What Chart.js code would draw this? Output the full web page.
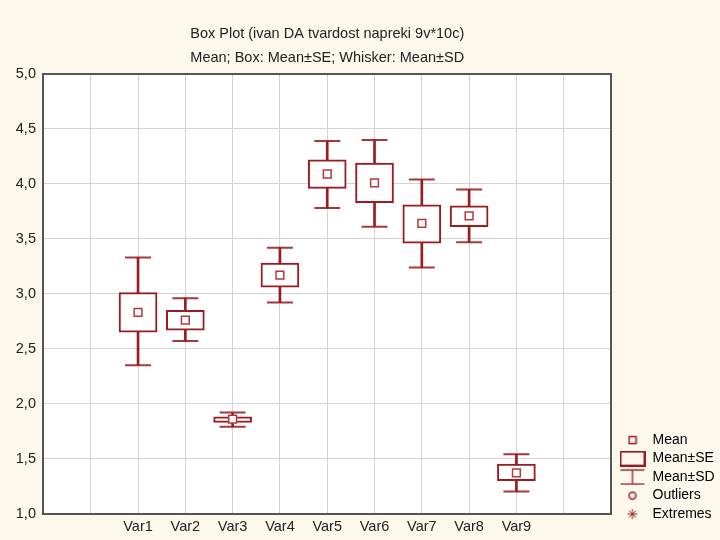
<!DOCTYPE html>
<html>
<head>
<meta charset="utf-8">
<script src="https://cdn.jsdelivr.net/npm/chart.js@4.4.1/dist/chart.umd.min.js"></script>
<style>
  html, body { margin: 0; padding: 0; background: #fcf8ec; }
  #wrap { width: 720px; height: 540px; }
</style>
</head>
<body>
<div id="wrap"><canvas id="box-plot"></canvas></div>
<script>
// values
const categories = ['Var1', 'Var2', 'Var3', 'Var4', 'Var5', 'Var6', 'Var7', 'Var8', 'Var9'];
const means  = [2.83, 2.76, 1.86, 3.17, 4.09, 4.01, 3.64, 3.71, 1.37];
const seLow  = [2.65, 2.67, 1.83, 3.06, 3.96, 3.83, 3.46, 3.61, 1.30];
const seHigh = [3.01, 2.85, 1.88, 3.28, 4.22, 4.19, 3.81, 3.80, 1.45];
const sdLow  = [2.35, 2.57, 1.79, 2.92, 3.78, 3.61, 3.24, 3.47, 1.20];
const sdHigh = [3.33, 2.96, 1.92, 3.42, 4.39, 4.40, 4.04, 3.95, 1.54];
const yTicks = [1.0, 1.5, 2.0, 2.5, 3.0, 3.5, 4.0, 4.5, 5.0];
const legendNames = ['Mean', 'Mean±SE', 'Mean±SD', 'Outliers', 'Extremes'];

const red = '#9a1c20';
const font = "'Liberation Sans', Arial, sans-serif";

// two empty slots on each side of the variables
const labels = ['', ''].concat(categories, ['', '']);
const pad = arr => [null, null].concat(arr, [null, null]);

const boxes = pad(seLow.map((v, i) => [v, seHigh[i]]));
const stems = pad(sdLow.map((v, i) => [v, sdHigh[i]]));

// small canvases for the legend symbols
function symbol(w, h, draw) {
    const c = document.createElement('canvas');
    c.width = w; c.height = h;
    const g = c.getContext('2d');
    g.strokeStyle = red;
    g.lineWidth = 1.5;
    draw(g);
    return c;
}
const legendSymbols = [
    symbol(10, 10, g => g.strokeRect(1.5, 1.5, 7, 7)),
    symbol(26, 16, g => { g.lineWidth = 2; g.strokeRect(1, 1, 24, 14); }),
    symbol(26, 16, g => {
        g.strokeStyle = '#a5393d';
        g.beginPath();
        g.moveTo(1, 1); g.lineTo(25, 1);
        g.moveTo(13, 1); g.lineTo(13, 15);
        g.moveTo(1, 15); g.lineTo(25, 15);
        g.stroke();
    }),
    symbol(10, 10, g => { g.beginPath(); g.arc(5, 5, 3.5, 0, Math.PI * 2); g.stroke(); }),
    symbol(12, 12, g => {
        g.lineWidth = 1;
        g.beginPath();
        g.moveTo(6, 1); g.lineTo(6, 11);
        g.moveTo(1, 6); g.lineTo(11, 6);
        g.moveTo(2.5, 2.5); g.lineTo(9.5, 9.5);
        g.moveTo(9.5, 2.5); g.lineTo(2.5, 9.5);
        g.stroke();
    })
];

const background = {
    id: 'background',
    beforeDraw(chart) {
        const {ctx, chartArea} = chart;
        ctx.save();
        ctx.fillStyle = '#fcf8ec';
        ctx.fillRect(0, 0, chart.width, chart.height);
        ctx.fillStyle = '#ffffff';
        ctx.fillRect(chartArea.left, chartArea.top, chartArea.right - chartArea.left, chartArea.bottom - chartArea.top);
        ctx.restore();
    }
};

// legend sits a bit lower than the plot bottom, like in Statistica
const legendNudge = {
    id: 'legendNudge',
    afterLayout(chart) {
        chart.legend.top += 12;
        chart.legend.bottom += 12;
    }
};

new Chart(document.getElementById('box-plot'), {
    type: 'bar',
    data: {
        labels: labels,
        datasets: [
            {
                type: 'line',
                label: 'Mean',
                data: pad(means),
                showLine: false,
                pointStyle: 'rect',
                pointRadius: 5.5,
                pointBackgroundColor: '#ffffff',
                pointBorderColor: '#b03a3e',
                pointBorderWidth: 1.5
            },
            {
                label: 'Mean±SE',
                data: boxes,
                backgroundColor: '#ffffff',
                borderColor: red,
                borderWidth: 2,
                borderSkipped: false,
                barThickness: 38,
                grouped: false
            },
            {
                label: 'SD stem',
                data: stems,
                backgroundColor: red,
                borderWidth: 0,
                barThickness: 2,
                grouped: false
            },
            {
                type: 'line',
                label: 'SD high',
                data: pad(sdHigh),
                showLine: false,
                pointStyle: 'line',
                pointRadius: 13,
                pointBorderColor: '#a5393d',
                pointBorderWidth: 2
            },
            {
                type: 'line',
                label: 'SD low',
                data: pad(sdLow),
                showLine: false,
                pointStyle: 'line',
                pointRadius: 13,
                pointBorderColor: '#a5393d',
                pointBorderWidth: 2
            }
        ]
    },
    options: {
        responsive: true,
        maintainAspectRatio: false,
        animation: false,
        layout: {
            padding: {top: 10, left: 10.3, right: 5, bottom: 0}
        },
        scales: {
            x: {
                type: 'category',
                offset: false,
                grid: {offset: false, color: '#d4d4d4', drawTicks: false},
                border: {color: '#555555', width: 2},
                ticks: {color: '#222222', font: {family: font, size: 14.5}, padding: 4.5, maxRotation: 0, autoSkip: false}
            },
            x2: {
                type: 'category',
                position: 'top',
                labels: labels,
                offset: false,
                grid: {offset: false, drawOnChartArea: false, drawTicks: false},
                border: {color: '#555555', width: 2},
                ticks: {display: false}
            },
            y: {
                min: 1,
                max: 5,
                afterBuildTicks: axis => { axis.ticks = yTicks.map(v => ({value: v})); },
                grid: {color: '#d4d4d4', tickLength: 2},
                border: {color: '#555555', width: 2},
                ticks: {
                    color: '#222222',
                    font: {family: font, size: 14.5},
                    padding: 5.5,
                    callback: v => v.toFixed(1).replace('.', ',')
                }
            },
            y2: {
                position: 'right',
                min: 1,
                max: 5,
                grid: {drawOnChartArea: false, tickLength: 4, tickColor: 'transparent'},
                border: {color: '#555555', width: 2},
                ticks: {display: false}
            }
        },
        plugins: {
            title: {
                display: true,
                fullSize: false,
                text: 'Box Plot (ivan DA tvardost napreki 9v*10c)',
                color: '#222222',
                font: {family: font, size: 14.5, weight: 'normal'},
                padding: {top: 15, bottom: 6.4}
            },
            subtitle: {
                display: true,
                fullSize: false,
                text: 'Mean; Box: Mean±SE; Whisker: Mean±SD',
                color: '#222222',
                font: {family: font, size: 14.5},
                padding: {top: 0, bottom: 7.8}
            },
            legend: {
                position: 'right',
                align: 'end',
                fullSize: false,
                maxWidth: 100,
                labels: {
                    usePointStyle: true,
                    pointStyleWidth: 26,
                    padding: 4.5,
                    color: '#222222',
                    font: {family: font, size: 14},
                    generateLabels: () => legendNames.map((name, i) => ({
                        text: name,
                        pointStyle: legendSymbols[i],
                        fillStyle: 'transparent',
                        strokeStyle: 'transparent',
                        lineWidth: 0,
                        hidden: false,
                        datasetIndex: 0
                    }))
                },
                onClick: () => {}
            },
            tooltip: {enabled: false}
        }
    },
    plugins: [background, legendNudge]
});
</script>
</body>
</html>
